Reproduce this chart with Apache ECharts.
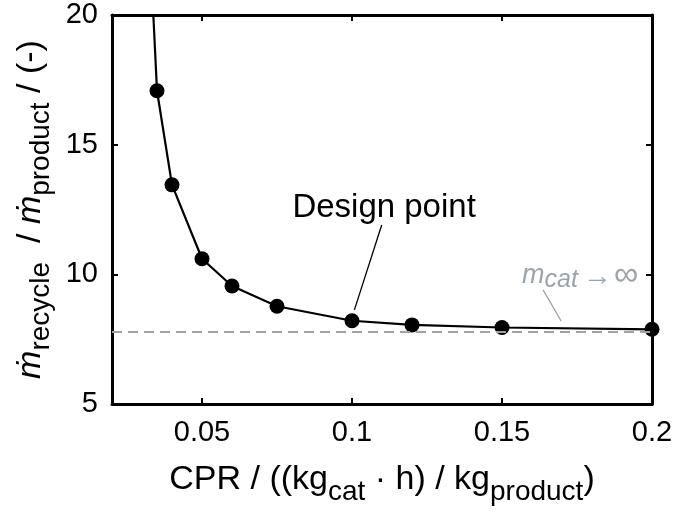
<!DOCTYPE html>
<html><head><meta charset="utf-8">
<script src="https://cdn.jsdelivr.net/npm/echarts@6/dist/echarts.min.js"></script>
<style>html,body{margin:0;padding:0;background:#fff}#c{width:673px;height:513px}</style>
</head><body><div id="c"></div>
<script>
// ---- data ----
const cpr = [0.03, 0.035, 0.04, 0.05, 0.06, 0.075, 0.1, 0.12, 0.15, 0.2];
const massRatio = [29, 17.08, 13.45, 10.6, 9.55, 8.77, 8.21, 8.05, 7.95, 7.88];
const asymptote = 7.79;
const xTicks = [0.05, 0.1, 0.15, 0.2];
const yTicks = [5, 10, 15, 20];
const xRange = [0.02, 0.2];
const yRange = [5, 20];
// annotation anchors (data coordinates)
const designLabel = { text: 'Design point', x: 0.1107, y: 12.56 };
const designPointer = [[0.1099, 11.9], [0.1008, 8.63]];
const catLabel = { x: 0.1567, y: 9.94 };
const catPointer = [[0.1637, 9.40], [0.1697, 8.20]];

const FONT = 'Liberation Sans, Arial, sans-serif';
const GRAY = '#9ba3ab';

const chart = echarts.init(document.getElementById('c'), null, { renderer: 'canvas' });

const frameAxis = {
  axisLine: { show: true, onZero: false, lineStyle: { color: '#000', width: 3 } },
  splitLine: { show: false }
};

chart.setOption({
  animation: false,
  backgroundColor: '#fff',
  grid: { left: 112, right: 21, top: 15, bottom: 109, containLabel: false, outerBoundsMode: 'none' },
  xAxis: [
    Object.assign({
      type: 'value', min: xRange[0], max: xRange[1], position: 'bottom',
      axisTick: { show: true, inside: true, length: 6, lineStyle: { width: 2, color: '#000' }, customValues: xTicks },
      axisLabel: { show: true, margin: 14, fontSize: 29, fontFamily: FONT, color: '#000', customValues: xTicks, showMaxLabel: true },
      name: '{a|CPR / ((kg}{s|cat}{a| · h) / kg}{s|product}{a|)}',
      nameLocation: 'middle', nameGap: 50,
      nameTextStyle: {
        rich: {
          a: { fontSize: 34, fontFamily: FONT, color: '#000' },
          s: { fontSize: 28, fontFamily: FONT, color: '#000', padding: [24, 0, 0, 0] }
        }
      }
    }, frameAxis),
    Object.assign({
      type: 'value', min: xRange[0], max: xRange[1], position: 'top',
      axisTick: { show: true, inside: true, length: 6, lineStyle: { width: 2, color: '#000' }, customValues: xTicks },
      axisLabel: { show: false }
    }, frameAxis)
  ],
  yAxis: [
    Object.assign({
      type: 'value', min: yRange[0], max: yRange[1], interval: 5, position: 'left',
      axisTick: { show: true, inside: true, length: 6, lineStyle: { width: 2, color: '#000' }, customValues: yTicks },
      axisLabel: { show: true, margin: 14, fontSize: 29, fontFamily: FONT, color: '#000', customValues: yTicks },
      name: '{m|ṁ}{s|recycle}{a|  / }{m|ṁ}{s|product}{a| / (-)}',
      nameLocation: 'middle', nameRotate: 90, nameGap: 57,
      nameTextStyle: {
        rich: {
          a: { fontSize: 34, fontFamily: FONT, color: '#000' },
          m: { fontSize: 34, fontFamily: FONT, fontStyle: 'italic', color: '#000' },
          s: { fontSize: 28, fontFamily: FONT, color: '#000', padding: [21, 0, 0, 0] }
        }
      }
    }, frameAxis),
    Object.assign({
      type: 'value', min: yRange[0], max: yRange[1], interval: 5, position: 'right',
      axisTick: { show: true, inside: true, length: 6, lineStyle: { width: 2, color: '#000' }, customValues: yTicks },
      axisLabel: { show: false }
    }, frameAxis)
  ],
  series: [
    {
      type: 'line', name: 'asymptote', xAxisIndex: 0, yAxisIndex: 0,
      data: [], symbol: 'none', z: 1,
      markLine: {
        silent: true, symbol: 'none', animation: false,
        label: { show: false },
        lineStyle: { color: GRAY, width: 2, type: [10, 6] },
        data: [{ yAxis: asymptote }]
      }
    },
    {
      type: 'line', name: 'ratio', xAxisIndex: 0, yAxisIndex: 0, z: 3,
      data: cpr.map((x, i) => [x, massRatio[i]]),
      clip: true,
      symbol: 'circle', symbolSize: 15,
      itemStyle: { color: '#000' },
      lineStyle: { color: '#000', width: 2.2 }
    }
  ]
});

function px(p) { return chart.convertToPixel({ xAxisIndex: 0, yAxisIndex: 0 }, p); }

const dl = px([designLabel.x, designLabel.y]);
const dp0 = px(designPointer[0]), dp1 = px(designPointer[1]);
const cl = px([catLabel.x, catLabel.y]);
const cp0 = px(catPointer[0]), cp1 = px(catPointer[1]);

chart.setOption({
  graphic: [
    { type: 'text', x: dl[0], y: dl[1], z: 10,
      style: { text: designLabel.text, fontSize: 33, fontFamily: FONT, fill: '#000', align: 'center', verticalAlign: 'middle' } },
    { type: 'line', z: 10, shape: { x1: dp0[0], y1: dp0[1], x2: dp1[0], y2: dp1[1] }, style: { stroke: '#000', lineWidth: 1.3 } },
    { type: 'text', x: cl[0], y: cl[1], z: 10,
      style: {
        text: '{m|m}{c|cat}{r|→}{i|∞}', align: 'left', verticalAlign: 'middle',
        rich: {
          m: { fontSize: 27, fontFamily: FONT, fontStyle: 'italic', fill: GRAY },
          c: { fontSize: 25, fontFamily: FONT, fontStyle: 'italic', fill: GRAY, padding: [9, 0, 0, 0] },
          r: { fontSize: 29, fontFamily: FONT, fill: GRAY, padding: [2, 2, 0, 5] },
          i: { fontSize: 34, fontFamily: FONT, fill: GRAY }
        }
      } },
    { type: 'line', z: 10, shape: { x1: cp0[0], y1: cp0[1], x2: cp1[0], y2: cp1[1] }, style: { stroke: GRAY, lineWidth: 1.3 } }
  ]
});
</script></body></html>
